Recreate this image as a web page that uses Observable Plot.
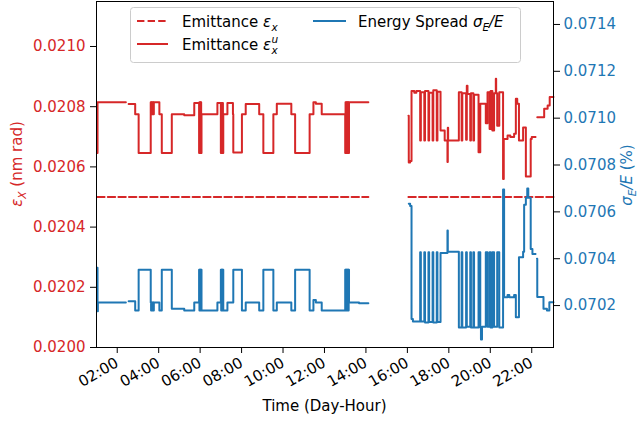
<!DOCTYPE html>
<html><head><meta charset="utf-8">
<script src="https://cdn.jsdelivr.net/npm/d3@7"></script>
<script src="https://cdn.jsdelivr.net/npm/@observablehq/plot@0.6"></script>
<style>
html,body{margin:0;padding:0;background:#fff;}
#chart{width:637px;height:426px;position:relative;}
</style></head><body><div id="chart"></div>
<script>
// ---- data (time "HH:MM", value); null = gap ----
const emittanceNominal = [
  ["01:02", 0.0205], ["14:07", 0.0205], ["14:08", null],
  ["16:03", 0.0205], ["23:03", 0.0205]
];
const emittanceU = [
  ["01:02", 0.020646], ["01:03", 0.020815], ["02:25", 0.020815], ["02:26", null],
  ["02:33", 0.020809], ["02:52", 0.020775], ["03:02", 0.020646],
  ["03:37", 0.020815], ["03:38", 0.020775], ["03:39", 0.020815], ["03:40", 0.020775],
  ["03:41", 0.020815], ["03:43", 0.020775], ["03:44", 0.020815], ["03:45", 0.020775],
  ["03:46", 0.020815], ["04:02", 0.020775], ["04:09", 0.020646], ["04:38", 0.020775],
  ["05:14", 0.020772], ["05:43", 0.020812],
  ["05:57", 0.020646], ["05:58", 0.020815], ["05:59", 0.020646], ["06:00", 0.020815],
  ["06:01", 0.020646], ["06:02", 0.020815], ["06:03", 0.020646], ["06:04", 0.020775],
  ["06:50", 0.020812],
  ["07:00", 0.020646], ["07:01", 0.020812], ["07:02", 0.020646], ["07:03", 0.020812],
  ["07:04", 0.020646], ["07:05", 0.020812], ["07:06", 0.020646], ["07:07", 0.020775],
  ["07:19", 0.020812], ["07:35", 0.020775], ["07:36", 0.020648], ["08:01", 0.020775],
  ["08:12", 0.020809], ["08:51", 0.020775], ["09:03", 0.020646], ["09:32", 0.020775],
  ["09:42", 0.020810], ["10:24", 0.020775], ["10:35", 0.020646], ["11:17", 0.020775],
  ["11:28", 0.020815], ["11:35", 0.020810], ["11:52", 0.020775],
  ["13:00", 0.020646], ["13:01", 0.020815], ["13:02", 0.020646], ["13:03", 0.020815],
  ["13:04", 0.020646], ["13:05", 0.020815], ["13:06", 0.020646], ["13:07", 0.020815],
  ["13:08", 0.020646], ["13:09", 0.020815], ["13:10", 0.020646], ["13:11", 0.020815],
  ["14:07", 0.020815], ["14:08", null],
  ["16:03", 0.020770], ["16:04", 0.020615], ["16:08", 0.020620], ["16:12", 0.020852],
  ["16:20", 0.020846], ["16:26", 0.020852],
  ["16:37", 0.020688], ["16:39", 0.020848], ["16:49", 0.020688], ["16:51", 0.020852],
  ["17:01", 0.020688], ["17:03", 0.020846], ["17:13", 0.020688], ["17:15", 0.020855],
  ["17:25", 0.020688], ["17:27", 0.020850], ["17:36", 0.020721], ["17:48", 0.020688],
  ["17:56", 0.020616], ["17:57", 0.020730], ["17:58", 0.020688], ["18:29", 0.020848],
  ["18:37", 0.020688], ["18:39", 0.020845], ["18:50", 0.020690], ["18:52", 0.020870],
  ["18:54", 0.020842], ["19:02", 0.020688], ["19:04", 0.020845], ["19:11", 0.020688],
  ["19:13", 0.020840], ["19:26", 0.020649], ["19:31", 0.020810], ["19:47", 0.020745],
  ["19:52", 0.020848], ["19:58", 0.020726], ["20:01", 0.020852], ["20:06", 0.020721],
  ["20:11", 0.020845], ["20:16", 0.020893], ["20:17", 0.020845], ["20:20", 0.020737],
  ["20:26", 0.020848], ["20:37", 0.020560], ["20:39", 0.020693], ["20:50", 0.020704],
  ["20:58", 0.020699], ["21:09", 0.020710], ["21:14", 0.020826], ["21:18", 0.020810],
  ["21:23", 0.020688], ["21:35", 0.020731], ["21:43", 0.020568], ["21:57", 0.020693],
  ["22:00", 0.020699], ["22:11", 0.020699], ["22:12", null],
  ["22:16", 0.020765], ["22:36", 0.020793], ["22:46", 0.020804], ["22:52", 0.020832],
  ["23:03", 0.020832]
];
const energySpread = [
  ["01:02", 0.070361], ["01:03", 0.070176], ["01:04", 0.070213], ["02:25", 0.070213], ["02:26", null],
  ["02:33", 0.070218], ["02:52", 0.070179], ["03:02", 0.070353],
  ["03:37", 0.070213], ["03:38", 0.070179], ["03:39", 0.070213], ["03:40", 0.070179],
  ["03:41", 0.070213], ["03:43", 0.070179], ["03:44", 0.070213], ["03:45", 0.070179],
  ["03:46", 0.070213], ["04:02", 0.070179], ["04:09", 0.070353], ["04:38", 0.070186],
  ["05:14", 0.070179], ["05:43", 0.070213],
  ["05:57", 0.070353], ["05:58", 0.070179], ["05:59", 0.070353], ["06:00", 0.070179],
  ["06:01", 0.070353], ["06:02", 0.070179], ["06:03", 0.070353], ["06:04", 0.070179],
  ["06:50", 0.070213],
  ["07:00", 0.070353], ["07:01", 0.070179], ["07:02", 0.070353], ["07:03", 0.070179],
  ["07:04", 0.070353], ["07:05", 0.070179], ["07:06", 0.070353], ["07:07", 0.070179],
  ["07:19", 0.070213], ["07:36", 0.070353], ["08:01", 0.070179], ["08:12", 0.070213],
  ["08:51", 0.070179], ["09:03", 0.070353], ["09:32", 0.070179], ["09:42", 0.070213],
  ["10:24", 0.070179], ["10:35", 0.070353], ["11:17", 0.070179], ["11:28", 0.070224],
  ["11:35", 0.070213], ["11:52", 0.070179],
  ["13:00", 0.070353], ["13:01", 0.070179], ["13:02", 0.070353], ["13:03", 0.070179],
  ["13:04", 0.070353], ["13:05", 0.070179], ["13:06", 0.070353], ["13:07", 0.070179],
  ["13:08", 0.070353], ["13:09", 0.070179], ["13:10", 0.070353], ["13:11", 0.070213],
  ["13:40", 0.070210], ["14:07", 0.070210], ["14:08", null],
  ["16:04", 0.070635], ["16:08", 0.070625], ["16:12", 0.070143], ["16:16", 0.070132],
  ["16:37", 0.070428], ["16:39", 0.070132], ["16:49", 0.070428], ["16:51", 0.070128],
  ["17:01", 0.070428], ["17:03", 0.070130], ["17:13", 0.070428], ["17:15", 0.070128],
  ["17:25", 0.070428], ["17:27", 0.070130], ["17:36", 0.070424], ["17:56", 0.070520],
  ["17:57", 0.070430], ["18:29", 0.070106], ["18:37", 0.070428], ["18:39", 0.070106],
  ["18:50", 0.070428], ["18:52", 0.070110], ["19:02", 0.070428], ["19:04", 0.070106],
  ["19:11", 0.070428], ["19:13", 0.070106], ["19:26", 0.070428], ["19:31", 0.070106],
  ["19:33", 0.070055], ["19:36", 0.070110], ["19:47", 0.070428], ["19:52", 0.070110],
  ["19:58", 0.070428], ["20:01", 0.070106], ["20:06", 0.070428], ["20:11", 0.070110],
  ["20:20", 0.070428], ["20:26", 0.070106], ["20:37", 0.070695], ["20:40", 0.070235],
  ["20:50", 0.070245], ["20:55", 0.070235], ["21:09", 0.070245], ["21:14", 0.070150],
  ["21:23", 0.070406], ["21:35", 0.070430], ["21:38", 0.070630], ["21:43", 0.070660],
  ["21:47", 0.070700], ["21:50", 0.070660], ["21:57", 0.070442], ["22:02", 0.070420],
  ["22:11", 0.070420], ["22:12", null],
  ["22:15", 0.070400], ["22:16", 0.070237], ["22:34", 0.070186], ["22:44", 0.070179],
  ["22:51", 0.070214], ["23:03", 0.070214]
];
const xTickLabels = ["02:00","04:00","06:00","08:00","10:00","12:00","14:00","16:00","18:00","20:00","22:00"];
const leftTicks = [0.0200, 0.0202, 0.0204, 0.0206, 0.0208, 0.0210];
const rightTicks = [0.0702, 0.0704, 0.0706, 0.0708, 0.0710, 0.0712, 0.0714];
const xDomain = ["01:00", "23:03"];
const leftDomain = [0.0200, 0.0211495];
const rightDomain = [0.070021, 0.071498];

// ---- helpers ----
const RED = "#d62728", BLUE = "#1f77b4";
const T = s => { const [h, m] = s.split(":").map(Number); return new Date(Date.UTC(2021, 0, 1, h, m)); };
const toLeft = s => leftDomain[0] + (s - rightDomain[0]) * (leftDomain[1] - leftDomain[0]) / (rightDomain[1] - rightDomain[0]);
const fromLeft = v => rightDomain[0] + (v - leftDomain[0]) * (rightDomain[1] - rightDomain[0]) / (leftDomain[1] - leftDomain[0]);
const rows = (arr, f = v => v) => arr.map(([t, v]) => ({t: T(t), v: v == null ? NaN : f(v)}));

const plot = Plot.plot({
  width: 637, height: 426,
  marginLeft: 96, marginRight: 84, marginTop: 1, marginBottom: 79,
  style: {fontFamily: "DejaVu Sans", fontSize: "15px", background: "white", color: "black"},
  x: {type: "utc", domain: xDomain.map(T)},
  y: {domain: leftDomain},
  marks: [
    Plot.line(rows(emittanceNominal), {x: "t", y: "v", stroke: RED, strokeWidth: 2, strokeDasharray: "7.4,3.2"}),
    Plot.line(rows(emittanceU), {x: "t", y: "v", stroke: RED, strokeWidth: 2, curve: "step-after"}),
    Plot.line(rows(energySpread, toLeft), {x: "t", y: "v", stroke: BLUE, strokeWidth: 2, curve: "step-after"}),
    Plot.frame({stroke: "black", strokeWidth: 1}),
    Plot.axisX({ticks: xTickLabels.map(T), tickFormat: d3.utcFormat("%H:%M"), tickRotate: -30, tickSize: 6, tickPadding: 8, label: null, stroke: "black", fill: "black", fontSize: 15}),
    Plot.axisY({anchor: "left", ticks: leftTicks, tickFormat: d => d.toFixed(4), tickSize: 6, tickPadding: 5, label: null, stroke: "black", fill: RED, fontSize: 15}),
    Plot.axisY({anchor: "right", ticks: rightTicks.map(toLeft), tickFormat: d => fromLeft(d).toFixed(4), tickSize: 6, tickPadding: 4, label: null, stroke: "black", fill: BLUE, fontSize: 15})
  ]
});
document.getElementById("chart").appendChild(plot);

// ---- labels and legend ----
const svg = d3.select(plot);
const FONT = "DejaVu Sans";
function mathLabel(g, x, y, parts, anchorMiddle) {
  const t = g.append("text").attr("x", x).attr("y", y).attr("font-family", FONT).attr("font-size", 15)
    .attr("text-anchor", anchorMiddle ? "middle" : "start");
  let shift = 0;
  for (const p of parts) {
    const sp = t.append("tspan").text(p.t);
    if (p.i) sp.attr("font-style", "italic");
    const target = p.sub ? 4 : p.sup ? -6 : 0;
    if (target !== shift) { sp.attr("dy", target - shift); shift = target; }
    if (p.sub || p.sup) sp.attr("font-size", 10.5);
  }
  return t;
}
// x label
svg.append("text").attr("x", 324.5).attr("y", 411).attr("text-anchor", "middle")
  .attr("font-family", FONT).attr("font-size", 15).attr("fill", "black").text("Time (Day-Hour)");
// left y label
const gl = svg.append("g").attr("transform", "translate(16,164) rotate(-90)").attr("fill", RED);
mathLabel(gl, 0, 5.5, [{t: "ε", i: true}, {t: "X", i: true, sub: true}, {t: " (nm rad)"}], true);
// right y label
const gr = svg.append("g").attr("transform", "translate(626,175) rotate(-90)").attr("fill", BLUE);
mathLabel(gr, 0, 5.5, [{t: "σ", i: true}, {t: "E", i: true, sub: true}, {t: "/", i: true}, {t: "E", i: true}, {t: " (%)"}], true);

// legend
const lg = svg.append("g").attr("fill", "black");
lg.append("rect").attr("x", 130.5).attr("y", 7.5).attr("width", 390).attr("height", 55).attr("rx", 3)
  .attr("fill", "white").attr("fill-opacity", 0.8).attr("stroke", "#cccccc");
lg.append("line").attr("x1", 137).attr("x2", 168).attr("y1", 21).attr("y2", 21)
  .attr("stroke", RED).attr("stroke-width", 2).attr("stroke-dasharray", "7.4,3.2");
lg.append("line").attr("x1", 137).attr("x2", 168).attr("y1", 44).attr("y2", 44)
  .attr("stroke", RED).attr("stroke-width", 2);
lg.append("line").attr("x1", 313).attr("x2", 346).attr("y1", 21).attr("y2", 21)
  .attr("stroke", BLUE).attr("stroke-width", 2);
function legendText(x, y, base, greek, sub, sup) {
  const t = lg.append("text").attr("x", x).attr("y", y).attr("font-family", FONT).attr("font-size", 15).attr("text-anchor", "start");
  t.append("tspan").text(base);
  t.append("tspan").attr("font-style", "italic").text(greek);
  const w = t.node().getComputedTextLength();
  if (sub) lg.append("text").attr("x", x + w + 0.5).attr("y", y + 4).attr("font-family", FONT).attr("font-size", 10.5).attr("font-style", "italic").attr("text-anchor", "start").text(sub);
  if (sup) lg.append("text").attr("x", x + w + 0.5).attr("y", y - 7).attr("font-family", FONT).attr("font-size", 10.5).attr("font-style", "italic").attr("text-anchor", "start").text(sup);
}
legendText(182, 26.5, "Emittance ", "ε", "x", null);
legendText(182, 49.5, "Emittance ", "ε", "x", "u");
mathLabel(lg, 358, 26.5, [{t: "Energy Spread "}, {t: "σ", i: true}, {t: "E", i: true, sub: true}, {t: "/", i: true}, {t: "E", i: true}], false);
</script>
</body></html>
